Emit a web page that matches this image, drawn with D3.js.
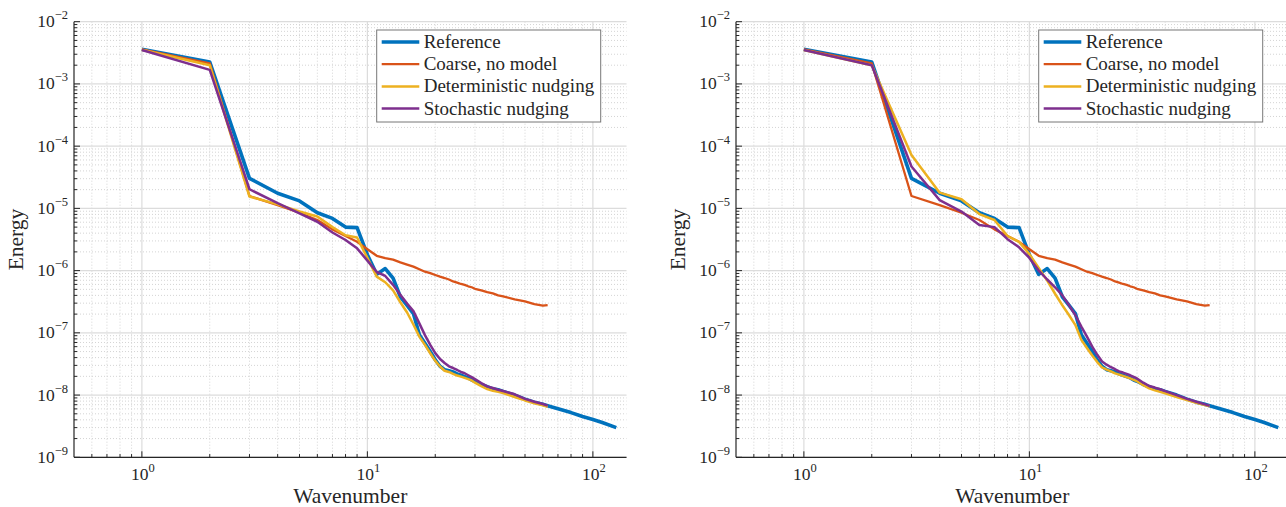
<!DOCTYPE html>
<html>
<head>
<meta charset="utf-8">
<script src="https://cdn.jsdelivr.net/npm/d3@7"></script>
<style>
  html, body { margin: 0; padding: 0; background: #fff; }
  svg { display: block; }
  text { font-family: "Liberation Serif", "Times New Roman", serif; fill: #262626; }
</style>
</head>
<body>
<svg id="chart" width="1286" height="507"></svg>
<script>
// ---------------- data ----------------
const seriesNames = ["Reference", "Coarse, no model", "Deterministic nudging", "Stochastic nudging"];
const seriesColors = ["#0072BD", "#D95319", "#EDB120", "#7E2F8E"];

const waveLow = [1,2,3,4,5,6,7,8,9,10,11,12,13,14,15,16,17,18,19,20,
                 21,22,23,24,25,26,27,28,29,30,32,34,36,38,40,45,50,55,60,63];
const waveTail = [70,80,90,100,110,127];

const refValues = [3.6e-3,2.25e-3,3.04e-5,1.75e-5,1.32e-5,8.5e-6,6.9e-6,5.0e-6,4.9e-6,1.8e-6,
  8.7e-7,1.08e-6,7.6e-7,3.8e-7,2.77e-7,2.04e-7,9.3e-8,6.8e-8,5.0e-8,3.7e-8,
  2.9e-8,2.56e-8,2.46e-8,2.35e-8,2.19e-8,2.08e-8,1.98e-8,1.89e-8,1.75e-8,1.67e-8,
  1.48e-8,1.36e-8,1.26e-8,1.22e-8,1.14e-8,1.0e-8,8.6e-9,7.7e-9,7.1e-9,6.76e-9,
  6.05e-9,5.23e-9,4.52e-9,4.05e-9,3.63e-9,3.0e-9];

const coarseValues = [3.6e-3,2.14e-3,1.58e-5,1.13e-5,8.5e-6,6.5e-6,4.6e-6,3.6e-6,2.9e-6,2.2e-6,
  1.73e-6,1.59e-6,1.5e-6,1.36e-6,1.25e-6,1.16e-6,1.05e-6,9.6e-7,9.1e-7,8.5e-7,
  8.0e-7,7.6e-7,7.2e-7,6.7e-7,6.4e-7,6.1e-7,5.9e-7,5.6e-7,5.4e-7,5.1e-7,
  4.8e-7,4.5e-7,4.3e-7,4.0e-7,3.85e-7,3.45e-7,3.2e-7,2.9e-7,2.74e-7,2.8e-7];

const detLeft = [3.55e-3,2.0e-3,1.55e-5,1.16e-5,8.9e-6,7.4e-6,5.0e-6,3.7e-6,3.4e-6,1.6e-6,
  8.0e-7,6.5e-7,4.8e-7,3.1e-7,2.12e-7,1.36e-7,8.7e-8,6.4e-8,4.7e-8,3.55e-8,
  2.88e-8,2.46e-8,2.35e-8,2.19e-8,2.06e-8,1.98e-8,1.89e-8,1.8e-8,1.72e-8,1.58e-8,
  1.39e-8,1.25e-8,1.17e-8,1.13e-8,1.08e-8,9.3e-9,8.2e-9,7.4e-9,6.85e-9,6.45e-9];

const stochLeft = [3.5e-3,1.68e-3,2.03e-5,1.21e-5,8.3e-6,6.1e-6,4.1e-6,3.1e-6,2.28e-6,1.45e-6,
  9.5e-7,8.2e-7,5.9e-7,4.1e-7,2.95e-7,2.23e-7,1.42e-7,9.2e-8,6.4e-8,4.72e-8,
  3.8e-8,3.28e-8,2.9e-8,2.72e-8,2.53e-8,2.35e-8,2.24e-8,2.08e-8,1.94e-8,1.8e-8,
  1.56e-8,1.38e-8,1.3e-8,1.22e-8,1.16e-8,1.03e-8,8.7e-9,7.8e-9,7.2e-9,6.76e-9];

const detRight = [3.5e-3,2.0e-3,7.2e-5,1.79e-5,1.4e-5,8.1e-6,6.5e-6,3.6e-6,2.9e-6,1.84e-6,
  1.1e-6,6.9e-7,4.25e-7,2.78e-7,1.92e-7,1.33e-7,7.7e-8,5.7e-8,4.33e-8,3.39e-8,
  2.79e-8,2.56e-8,2.4e-8,2.23e-8,2.13e-8,2.03e-8,1.94e-8,1.85e-8,1.76e-8,1.67e-8,
  1.44e-8,1.28e-8,1.19e-8,1.13e-8,1.07e-8,9.3e-9,8.3e-9,7.5e-9,6.9e-9,6.6e-9];

const stochRight = [3.5e-3,2.0e-3,4.7e-5,1.36e-5,8.9e-6,5.4e-6,5.0e-6,3.2e-6,2.37e-6,1.6e-6,
  1.0e-6,7.2e-7,5.4e-7,4.0e-7,2.77e-7,1.92e-7,1.26e-7,8.7e-8,6.0e-8,4.44e-8,
  3.47e-8,3.08e-8,2.8e-8,2.6e-8,2.4e-8,2.3e-8,2.19e-8,2.08e-8,1.96e-8,1.85e-8,
  1.58e-8,1.4e-8,1.32e-8,1.24e-8,1.16e-8,1.0e-8,8.7e-9,7.8e-9,7.1e-9,6.7e-9];

const xTickExps = [0, 1, 2];
const yTickExps = [-9, -8, -7, -6, -5, -4, -3, -2];
const xLabel = "Wavenumber";
const yLabel = "Energy";

// ---------------- layout ----------------
const xDomain = [0.5, 141];
const yDomain = [1e-9, 1e-2];
const decadePx = 225.5;
const plotTop = 21.7, plotBottom = 457.3;
const panels = [
  { left: 74,  det: detLeft,  stoch: stochLeft },
  { left: 736, det: detRight, stoch: stochRight }
];
const lineWidths = [3.6, 2.3, 2.5, 2.5];

const svg = d3.select("#chart");
const refWave = waveLow.concat(waveTail);

function sup(sel, base, exp, fs, supfs, dy) {
  sel.append("tspan").text(base).attr("font-size", fs);
  sel.append("tspan").text(exp).attr("font-size", supfs).attr("dy", dy);
}

panels.forEach(p => {
  const width = decadePx * Math.log10(xDomain[1] / xDomain[0]);
  const x = d3.scaleLog().domain(xDomain).range([p.left, p.left + width]);
  const y = d3.scaleLog().domain(yDomain).range([plotBottom, plotTop]);
  const g = svg.append("g");
  const x0 = p.left, x1 = p.left + width;

  // minor grid
  const xMinor = [];
  [0.1, 1, 10, 100].forEach(d => { for (let m = 2; m <= 9; m++) { const v = d * m; if (v > xDomain[0] && v < xDomain[1]) xMinor.push(v); } });
  const yMinor = [];
  for (let e = -9; e < -2; e++) for (let m = 2; m <= 9; m++) yMinor.push(m * Math.pow(10, e));
  g.selectAll(null).data(xMinor).join("line")
    .attr("x1", d => x(d)).attr("x2", d => x(d)).attr("y1", plotTop).attr("y2", plotBottom)
    .attr("stroke", "#d4d4d4").attr("stroke-width", 1).attr("stroke-dasharray", "1,2");
  g.selectAll(null).data(yMinor).join("line")
    .attr("x1", x0).attr("x2", x1).attr("y1", d => y(d)).attr("y2", d => y(d))
    .attr("stroke", "#d4d4d4").attr("stroke-width", 1).attr("stroke-dasharray", "1,2");
  // major grid
  g.selectAll(null).data(xTickExps).join("line")
    .attr("x1", d => x(Math.pow(10, d))).attr("x2", d => x(Math.pow(10, d)))
    .attr("y1", plotTop).attr("y2", plotBottom)
    .attr("stroke", "#dcdcdc").attr("stroke-width", 1.2);
  g.selectAll(null).data(yTickExps).join("line")
    .attr("x1", x0).attr("x2", x1)
    .attr("y1", d => y(Math.pow(10, d))).attr("y2", d => y(Math.pow(10, d)))
    .attr("stroke", "#dcdcdc").attr("stroke-width", 1.2);

  // lines
  const line = d3.line().x(d => x(d[0])).y(d => y(d[1]));
  const seriesData = [
    d3.zip(refWave, refValues),
    d3.zip(waveLow, coarseValues),
    d3.zip(waveLow, p.det),
    d3.zip(waveLow, p.stoch)
  ];
  seriesData.forEach((data, i) => {
    g.append("path").attr("d", line(data)).attr("fill", "none")
      .attr("stroke", seriesColors[i]).attr("stroke-width", lineWidths[i])
      .attr("stroke-linejoin", "round").attr("stroke-linecap", "butt");
  });

  // axes lines
  g.append("line").attr("x1", x0).attr("x2", x0).attr("y1", plotTop).attr("y2", plotBottom)
    .attr("stroke", "#262626").attr("stroke-width", 1.2);
  g.append("line").attr("x1", x0).attr("x2", x1).attr("y1", plotBottom).attr("y2", plotBottom)
    .attr("stroke", "#262626").attr("stroke-width", 1.2);
  // ticks
  g.selectAll(null).data(xMinor).join("line")
    .attr("x1", d => x(d)).attr("x2", d => x(d)).attr("y1", plotBottom).attr("y2", plotBottom - 3.2)
    .attr("stroke", "#262626").attr("stroke-width", 1);
  g.selectAll(null).data(xTickExps).join("line")
    .attr("x1", d => x(Math.pow(10, d))).attr("x2", d => x(Math.pow(10, d)))
    .attr("y1", plotBottom).attr("y2", plotBottom - 6)
    .attr("stroke", "#262626").attr("stroke-width", 1);
  g.selectAll(null).data(yMinor).join("line")
    .attr("x1", x0).attr("x2", x0 + 3.2).attr("y1", d => y(d)).attr("y2", d => y(d))
    .attr("stroke", "#262626").attr("stroke-width", 1);
  g.selectAll(null).data(yTickExps).join("line")
    .attr("x1", x0).attr("x2", x0 + 6)
    .attr("y1", d => y(Math.pow(10, d))).attr("y2", d => y(Math.pow(10, d)))
    .attr("stroke", "#262626").attr("stroke-width", 1);

  // tick labels
  yTickExps.forEach(e => {
    const t = g.append("text").attr("x", x0 - 6).attr("y", y(Math.pow(10, e)) + 5.5)
      .attr("text-anchor", "end");
    sup(t, "10", "\u2212" + Math.abs(e), 17.5, 12.5, -8);
  });
  xTickExps.forEach(e => {
    const t = g.append("text").attr("x", x(Math.pow(10, e)) + 1).attr("y", 479.5)
      .attr("text-anchor", "middle");
    sup(t, "10", String(e), 17.5, 12.5, -8);
  });

  // axis labels
  g.append("text").attr("x", (x0 + x1) / 2).attr("y", 503).attr("text-anchor", "middle")
    .attr("font-size", 21.5).text(xLabel);
  g.append("text").attr("transform", `translate(${x0 - 51},${(plotTop + plotBottom) / 2}) rotate(-90)`)
    .attr("text-anchor", "middle").attr("font-size", 21.5).text(yLabel);

  // legend
  const lx = x0 + 302.7, ly = 30, lw = 224, lh = 92;
  g.append("rect").attr("x", lx).attr("y", ly).attr("width", lw).attr("height", lh)
    .attr("fill", "#fff").attr("stroke", "#777").attr("stroke-width", 1);
  seriesNames.forEach((name, i) => {
    const cy = 42 + i * 22.2;
    g.append("line").attr("x1", lx + 5).attr("x2", lx + 42.6).attr("y1", cy).attr("y2", cy)
      .attr("stroke", seriesColors[i]).attr("stroke-width", lineWidths[i]);
    g.append("text").attr("x", lx + 47).attr("y", cy + 6).attr("font-size", 19).text(name);
  });
});
</script>
</body>
</html>
